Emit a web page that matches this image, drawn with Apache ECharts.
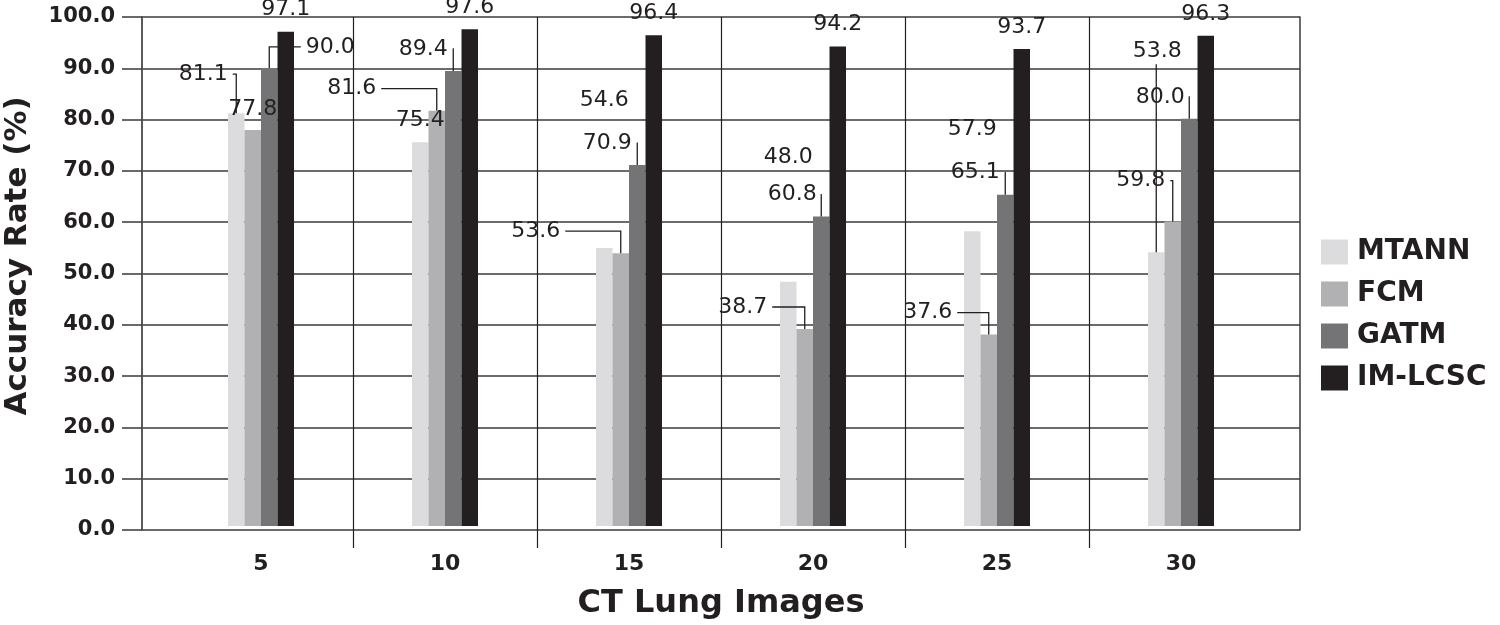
<!DOCTYPE html>
<html>
<head>
<meta charset="utf-8">
<script src="https://cdn.jsdelivr.net/npm/echarts@6/dist/echarts.min.js"></script>
<style>html,body{margin:0;padding:0;background:#fff}#c{width:1500px;height:625px}</style>
</head>
<body>
<div id="c"></div>
<script>
const categories = ['5', '10', '15', '20', '25', '30'];
const seriesNames = ['MTANN', 'FCM', 'GATM', 'IM-LCSC'];
const mtann = [81.1, 75.4, 54.6, 48.0, 57.9, 53.8];
const fcm = [77.8, 81.6, 53.6, 38.7, 37.6, 59.8];
const gatm = [90.0, 89.4, 70.9, 60.8, 65.1, 80.0];
const imlcsc = [97.1, 97.6, 96.4, 94.2, 93.7, 96.3];

// label offsets (px) from default top position, and leader-line flags
const labelOffsets = [
  [[-33, -23], [0, -6], [0, -132], [0, -108], [0, -86], [1, -185]],
  [[0, -5], [-85, -6], [-85, -6], [-62, -6], [-61, -6], [-32, -25]],
  [[61, -5], [-30, -6], [-30, -6], [-29, -6], [-30, -6], [-29, -6]],
  [[0, -6], [0, -6], [0, -6], [0, -6], [0, -6], [0, -6]]
];
const leaderFlags = [
  [1, 0, 0, 0, 0, 1],
  [0, 1, 1, 1, 1, 1],
  [1, 1, 1, 1, 1, 1],
  [0, 0, 0, 0, 0, 0]
];
const colors = ['#dcdcde', '#b1b1b3', '#747476', '#231f20'];
const values = [mtann, fcm, gatm, imlcsc];

const FONT = 'DejaVu Sans';
const TXT = '#231f20';
const LABEL_SIZE = 22;
const BAR_W = 16.5;
const LABEL_DIST = 5;

const ctx = document.createElement('canvas').getContext('2d');
ctx.font = LABEL_SIZE + 'px "' + FONT + '"';
function textW(t) { return ctx.measureText(t).width; }

const series = values.map((vals, si) => ({
  name: seriesNames[si],
  type: 'bar',
  xAxisIndex: 1,
  yAxisIndex: 2,
  barWidth: BAR_W,
  barGap: '0%',
  itemStyle: { color: colors[si] },
  label: {
    show: true, position: 'top', distance: LABEL_DIST,
    fontFamily: FONT, fontSize: LABEL_SIZE, color: TXT,
    formatter: p => p.value.toFixed(1)
  },
  labelLayout: p => {
    const o = labelOffsets[p.seriesIndex][p.dataIndex];
    return { dx: o[0], dy: o[1] };
  },
  data: vals,
  z: 3
}));

// leader lines from labels to bar tops
const leaderItems = [];
leaderFlags.forEach((row, si) => row.forEach((f, ci) => { if (f) leaderItems.push([ci, si]); }));

series.push({
  type: 'custom',
  xAxisIndex: 1,
  yAxisIndex: 2,
  silent: true,
  z: 4,
  data: leaderItems,
  renderItem: (params, api) => {
    const ci = api.value(0), si = api.value(1);
    const v = values[si][ci];
    const pt = api.coord([ci, v]);
    const bx = pt[0] + (si - 1.5) * BAR_W;
    const by = pt[1];
    const o = labelOffsets[si][ci];
    const lw = textW(v.toFixed(1));
    const lh = LABEL_SIZE;
    const cx = bx + o[0];
    const cy = by - LABEL_DIST - lh / 2 + o[1];
    const lx = cx - lw / 2;
    let pts;
    if (bx > lx + lw + 2) pts = [[lx + lw + 5, cy], [bx, cy], [bx, by]];
    else if (bx < lx - 2) pts = [[lx - 5, cy], [bx, cy], [bx, by]];
    else pts = [[bx, cy + lh / 2 + 2], [bx, by]];
    return {
      type: 'polyline',
      shape: { points: pts },
      style: { stroke: TXT, lineWidth: 1.3, fill: null }
    };
  }
});

const chart = echarts.init(document.getElementById('c'), null, { renderer: 'canvas' });
chart.setOption({
  backgroundColor: '#fff',
  animation: false,
  grid: [
    { left: 142, right: 200, top: 17, bottom: 95 },
    { left: 169, right: 227, top: 17, bottom: 95 },
    { left: 169, right: 227, top: 17, bottom: 77 }
  ],
  legend: {
    orient: 'vertical', left: 1316, top: 233,
    itemWidth: 27, itemHeight: 25, itemGap: 14,
    icon: 'rect',
    textStyle: { fontFamily: FONT, fontWeight: 'bold', fontSize: 28, lineHeight: 25, color: TXT, padding: [0, 0, 0, 4] },
    data: seriesNames
  },
  xAxis: [
    { gridIndex: 0, type: 'value', min: 0, max: 1, show: false },
    {
      gridIndex: 1, type: 'category', data: categories,
      axisLine: { show: false }, axisTick: { show: false }, splitLine: { show: false },
      axisLabel: { fontFamily: FONT, fontWeight: 'bold', fontSize: 22, color: TXT, margin: 27 },
      name: 'CT Lung Images', nameLocation: 'middle', nameGap: 62,
      nameTextStyle: { fontFamily: FONT, fontWeight: 'bold', fontSize: 32, color: TXT }
    },
    {
      gridIndex: 2, type: 'category', data: categories,
      axisLine: { show: false }, axisTick: { show: false }, axisLabel: { show: false },
      splitLine: { show: true, showMinLine: false, showMaxLine: false, lineStyle: { color: TXT, width: 1.2 } }
    }
  ],
  yAxis: [
    {
      gridIndex: 0, type: 'value', min: 0, max: 100, interval: 10,
      axisLine: { show: true, lineStyle: { color: '#5a5a5a', width: 2 } },
      axisTick: { show: true, length: 20, lineStyle: { color: '#3a3a3a', width: 1.5 } },
      axisLabel: { fontFamily: FONT, fontWeight: 'bold', fontSize: 21, color: TXT, margin: 27, formatter: v => v.toFixed(1) },
      splitLine: { show: true, lineStyle: { color: '#3a3a3a', width: 1.5 } }
    },
    {
      gridIndex: 0, type: 'value', min: 0, max: 100, position: 'right',
      axisLine: { show: true, lineStyle: { color: '#3a3a3a', width: 1.5 } },
      axisTick: { show: false }, axisLabel: { show: false }, splitLine: { show: false }
    },
    { gridIndex: 1, type: 'value', min: 0, max: 100, show: false },
    { gridIndex: 2, type: 'value', min: 0, max: 100, show: false }
  ],
  graphic: [{
    type: 'text', x: 18, y: 256, rotation: Math.PI / 2,
    style: { text: 'Accuracy Rate (%)', fontFamily: FONT, fontWeight: 'bold', fontSize: 31, fill: TXT, align: 'center', verticalAlign: 'middle' }
  }],
  series: series
});
</script>
</body>
</html>
